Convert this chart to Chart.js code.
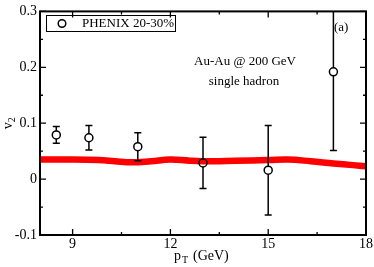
<!DOCTYPE html>
<html>
<head>
<meta charset="utf-8">
<script src="https://cdn.jsdelivr.net/npm/chart.js@4.4.1/dist/chart.umd.min.js"></script>
<style>
  html,body{margin:0;padding:0;background:#fff;}
  #wrap{width:374px;height:267px;}
</style>
</head>
<body>
<div id="wrap"><canvas id="c" width="374" height="267"></canvas></div>
<script>
// PHENIX 20-30% data
const ptData = [8.5, 9.5, 11, 13, 15, 17];
const v2Data = [0.079, 0.074, 0.058, 0.029, 0.016, 0.192];
const v2Err  = [0.015, 0.022, 0.025, 0.046, 0.080, 0.141];

// model curve (red band)
const ptCurve = [8, 9, 9.8, 10.3, 10.8, 11.4, 12, 12.6, 13.3, 14, 15, 15.6, 16.3, 17, 17.6, 18];
const v2Curve = [0.035, 0.035, 0.034, 0.032, 0.030, 0.032, 0.035, 0.033, 0.032, 0.033, 0.034, 0.035, 0.032, 0.028, 0.025, 0.023];

const xMajor = [9, 12, 15, 18];
const xMinor = [8, 10.5, 13.5, 16.5];
const yMajor = [-0.1, 0, 0.1, 0.2, 0.3];
const yMinor = [-0.05, 0.05, 0.15, 0.25];

const serif = '"Liberation Serif", "DejaVu Serif", serif';

const decor = {
  id: 'decor',
  afterDatasetsDraw(chart){
    const ctx = chart.ctx, a = chart.chartArea;
    const xs = chart.scales.x, ys = chart.scales.y;
    ctx.save();
    // error bars
    ctx.beginPath(); ctx.rect(a.left, a.top, a.right-a.left, a.bottom-a.top); ctx.clip();
    ctx.strokeStyle = '#000'; ctx.lineWidth = 1.5;
    ptData.forEach((p,i)=>{
      const x = xs.getPixelForValue(p);
      const y0 = ys.getPixelForValue(v2Data[i]-v2Err[i]);
      const y1 = ys.getPixelForValue(v2Data[i]+v2Err[i]);
      const yc = ys.getPixelForValue(v2Data[i]);
      ctx.beginPath();
      ctx.moveTo(x, y1); ctx.lineTo(x, yc-4);
      ctx.moveTo(x, yc+4); ctx.lineTo(x, y0);
      ctx.moveTo(x-3.5, y0); ctx.lineTo(x+3.5, y0);
      ctx.moveTo(x-3.5, y1); ctx.lineTo(x+3.5, y1);
      ctx.stroke();
    });
    ctx.restore();
    ctx.save();
    // frame
    ctx.strokeStyle = '#000'; ctx.lineWidth = 2;
    ctx.strokeRect(a.left, a.top, a.right-a.left, a.bottom-a.top);
    ctx.lineWidth = 1.3;
    ctx.beginPath();
    const tx = (v, len)=>{
      const x = xs.getPixelForValue(v);
      ctx.moveTo(x, a.bottom); ctx.lineTo(x, a.bottom-len);
      ctx.moveTo(x, a.top); ctx.lineTo(x, a.top+len);
    };
    const ty = (v, len)=>{
      const y = ys.getPixelForValue(v);
      ctx.moveTo(a.left, y); ctx.lineTo(a.left+len, y);
      ctx.moveTo(a.right, y); ctx.lineTo(a.right-len, y);
    };
    xMajor.forEach(v=>tx(v, 6)); xMinor.forEach(v=>tx(v, 3));
    yMajor.forEach(v=>ty(v, 6)); yMinor.forEach(v=>ty(v, 3));
    ctx.stroke();
    // legend box
    ctx.lineWidth = 1;
    ctx.strokeRect(46.5, 15.5, 129, 16);
    ctx.lineWidth = 1.5;
    ctx.beginPath(); ctx.arc(62, 23.5, 3.8, 0, Math.PI*2); ctx.stroke();
    ctx.fillStyle = '#000';
    ctx.font = '13px ' + serif;
    ctx.textBaseline = 'middle'; ctx.textAlign = 'left';
    ctx.fillText(chart.data.datasets[1].label, 82, 24);
    // annotations
    ctx.font = '13px ' + serif;
    ctx.textAlign = 'center';
    ctx.fillText('Au-Au @ 200 GeV', 245, 62);
    ctx.fillText('single hadron', 244, 82);
    ctx.textAlign = 'left';
    ctx.fillText('(a)', 334, 28);
    // axis titles
    ctx.font = '14px ' + serif;
    ctx.textBaseline = 'alphabetic';
    const cx = (a.left + a.right)/2;
    ctx.fillText('p', cx-29, 260);
    ctx.font = '10px ' + serif;
    ctx.fillText('T', cx-21, 263);
    ctx.font = '14px ' + serif;
    ctx.fillText('(GeV)', cx-10, 260);
    ctx.translate(12, (a.top+a.bottom)/2);
    ctx.rotate(-Math.PI/2);
    ctx.font = '14px ' + serif;
    ctx.fillText('v', -6, 0);
    ctx.font = '10px ' + serif;
    ctx.fillText('2', 1, 3);
    ctx.restore();
  }
};

new Chart(document.getElementById('c'), {
  type: 'scatter',
  data: {
    datasets: [
      {
        label: 'model',
        data: ptCurve.map((x,i)=>({x, y: v2Curve[i]})),
        showLine: true,
        borderColor: '#ff0000',
        borderWidth: 6.5,
        pointRadius: 0,
        tension: 0.4,
        order: 2
      },
      {
        label: 'PHENIX 20-30%',
        data: ptData.map((x,i)=>({x, y: v2Data[i]})),
        pointStyle: 'circle',
        pointRadius: 4,
        pointBorderWidth: 1.5,
        pointBorderColor: '#000',
        pointBackgroundColor: 'rgba(0,0,0,0)',
        order: 1
      }
    ]
  },
  options: {
    responsive: false,
    animation: false,
    layout: { padding: { top: 5, right: 8, left: 0, bottom: 0 } },
    plugins: { legend: { display: false }, tooltip: { enabled: false } },
    scales: {
      x: {
        type: 'linear', min: 8, max: 18,
        afterBuildTicks: s => { s.ticks = xMajor.map(v=>({value: v})); },
        afterFit: s => { s.height = 32; },
        grid: { display: false, drawTicks: false },
        border: { display: false },
        ticks: { color: '#000', padding: 1, maxRotation: 0, font: { family: serif, size: 14 },
          callback: v => String(v) }
      },
      y: {
        type: 'linear', min: -0.1, max: 0.3,
        afterBuildTicks: s => { s.ticks = yMajor.map(v=>({value: v})); },
        afterFit: s => { s.width = 40; },
        grid: { display: false, drawTicks: false },
        border: { display: false },
        ticks: { color: '#000', padding: 3, font: { family: serif, size: 14 },
          callback: v => String(Math.round(v*10)/10) }
      }
    }
  },
  plugins: [decor]
});
</script>
</body>
</html>
